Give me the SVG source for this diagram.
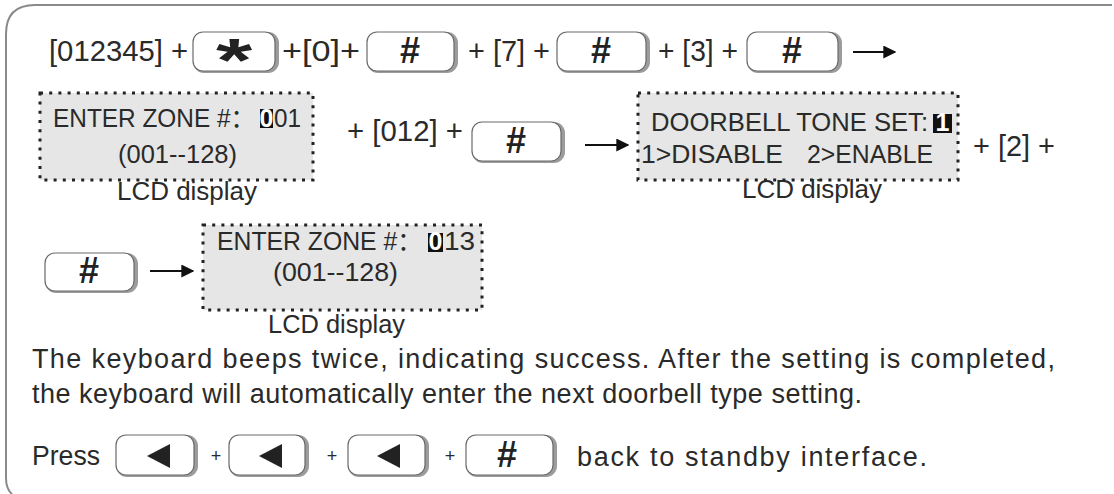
<svg xmlns="http://www.w3.org/2000/svg" width="1114" height="494" viewBox="0 0 1114 494">
<style>
.t{font-family:"Liberation Sans",Arial,"Noto Sans CJK SC",sans-serif;fill:#2a2a2a}
.r1{font-size:29px}
.lcd{font-size:25px}
.p{font-size:27px}
.ksh{fill:#9c9c9c}
.kb{fill:#fff;stroke:#6a6a6a;stroke-width:1.2}
.kg{font-family:"Liberation Sans",Arial,sans-serif;font-weight:bold;fill:#222;text-anchor:middle}
.box{fill:#e6e6e6;stroke:#222;stroke-width:3;stroke-dasharray:3 6.2}
.hl{fill:#111}
.wt{font-family:"Liberation Sans",Arial,sans-serif;font-size:25px;fill:#fff;text-anchor:middle;font-weight:bold}
.con{stroke:#111;stroke-width:2;fill:none}
.tri{fill:#222}
</style>
<defs>
<marker id="ah" viewBox="0 0 10 10" refX="9" refY="5" markerWidth="6.5" markerHeight="6.5" orient="auto" markerUnits="strokeWidth">
<path d="M0,0 L10,5 L0,10 z" fill="#111"/>
</marker>
</defs>
<rect width="1114" height="494" fill="#fff"/>
<path d="M1112 5 H35 Q6 5 6 34 V478 Q6 489 12 494" fill="none" stroke="#8a8a8a" stroke-width="2"/>

<!-- row 1 text -->
<text class="t r1" x="49" y="61" textLength="139" lengthAdjust="spacingAndGlyphs">[012345] +</text>
<text class="t r1" x="282" y="61" textLength="78" lengthAdjust="spacingAndGlyphs">+[0]+</text>
<text class="t r1" x="468" y="61" textLength="82" lengthAdjust="spacingAndGlyphs">+ [7] +</text>
<text class="t r1" x="658" y="61" textLength="80" lengthAdjust="spacingAndGlyphs">+ [3] +</text>

<g id="key-star">
<rect class="ksh" x="193" y="32" width="86" height="41" rx="11"/>
<rect class="kb" x="193" y="32" width="82" height="39" rx="10"/>
<text class="kg" x="0" y="0" font-size="62" transform="translate(234 81) scale(1.5 1)">*</text>
</g>
<g id="key-hash-1">
<rect class="ksh" x="367" y="32" width="91" height="41" rx="11"/>
<rect class="kb" x="367" y="32" width="87" height="39" rx="10"/>
<text class="kg" x="410" y="63" font-size="36">#</text>
</g>
<g id="key-hash-2">
<rect class="ksh" x="557" y="32" width="93" height="41" rx="11"/>
<rect class="kb" x="557" y="32" width="89" height="39" rx="10"/>
<text class="kg" x="601" y="63" font-size="36">#</text>
</g>
<g id="key-hash-3">
<rect class="ksh" x="747" y="32" width="95" height="41" rx="11"/>
<rect class="kb" x="747" y="32" width="91" height="39" rx="10"/>
<text class="kg" x="792" y="63" font-size="36">#</text>
</g>

<!-- row 2 -->
<g id="lcd-1">
<rect class="box" x="40" y="93" width="273" height="87"/>
<text class="t lcd" x="53" y="127" textLength="202" lengthAdjust="spacingAndGlyphs">ENTER ZONE #：</text>
<rect class="hl" x="260" y="109" width="13" height="19"/>
<text class="wt" x="266.5" y="127">0</text>
<text class="t lcd" x="274" y="127" textLength="27" lengthAdjust="spacingAndGlyphs">01</text>
<text class="t lcd" x="118" y="163" textLength="119" lengthAdjust="spacingAndGlyphs">(001--128)</text>
<text class="t lcd" x="117" y="200" textLength="140" lengthAdjust="spacingAndGlyphs">LCD display</text>
</g>
<text class="t r1" x="347" y="141" textLength="116" lengthAdjust="spacingAndGlyphs">+ [012] +</text>
<g id="key-hash-4">
<rect class="ksh" x="472" y="122" width="93" height="41" rx="11"/>
<rect class="kb" x="472" y="122" width="89" height="39" rx="10"/>
<text class="kg" x="516" y="153" font-size="36">#</text>
</g>
<g id="lcd-2">
<rect class="box" x="638" y="93" width="320" height="87"/>
<text class="t lcd" x="651" y="131" textLength="277" lengthAdjust="spacingAndGlyphs">DOORBELL TONE SET:</text>
<rect class="hl" x="933" y="114" width="19" height="19"/>
<text class="wt" x="942.5" y="131">1</text>
<text class="t lcd" x="641" y="163" textLength="142" lengthAdjust="spacingAndGlyphs">1&gt;DISABLE</text>
<text class="t lcd" x="807" y="163" textLength="126" lengthAdjust="spacingAndGlyphs">2&gt;ENABLE</text>
<text class="t lcd" x="742" y="198" textLength="140" lengthAdjust="spacingAndGlyphs">LCD display</text>
</g>
<text class="t r1" x="973" y="156" textLength="82" lengthAdjust="spacingAndGlyphs">+ [2] +</text>

<!-- row 3 -->
<g id="key-hash-5">
<rect class="ksh" x="45" y="253" width="93" height="40" rx="11"/>
<rect class="kb" x="45" y="253" width="89" height="38" rx="10"/>
<text class="kg" x="89" y="283" font-size="36">#</text>
</g>
<g id="lcd-3">
<rect class="box" x="203" y="225" width="279" height="85"/>
<text class="t lcd" x="217" y="250" textLength="205" lengthAdjust="spacingAndGlyphs">ENTER ZONE #：</text>
<rect class="hl" x="428" y="233" width="15" height="19"/>
<text class="wt" x="435.5" y="250">0</text>
<text class="t lcd" x="444" y="250" textLength="31" lengthAdjust="spacingAndGlyphs">13</text>
<text class="t lcd" x="273" y="281" textLength="125" lengthAdjust="spacingAndGlyphs">(001--128)</text>
<text class="t lcd" x="268" y="333" textLength="137" lengthAdjust="spacingAndGlyphs">LCD display</text>
</g>

<g id="connectors">
<line class="con" x1="853" y1="52" x2="895" y2="52" marker-end="url(#ah)"/>
<line class="con" x1="585" y1="145" x2="628" y2="145" marker-end="url(#ah)"/>
<line class="con" x1="150" y1="271" x2="193" y2="271" marker-end="url(#ah)"/>
</g>

<!-- paragraph -->
<text class="t p" x="32" y="368" textLength="1023" lengthAdjust="spacing">The keyboard beeps twice, indicating success. After the setting is completed,</text>
<text class="t p" x="32" y="403" textLength="830" lengthAdjust="spacing">the keyboard will automatically enter the next doorbell type setting.</text>
<text class="t p" x="32" y="465" textLength="68" lengthAdjust="spacingAndGlyphs">Press</text>
<g id="key-left-1">
<rect class="ksh" x="116" y="435" width="82" height="42" rx="11"/>
<rect class="kb" x="116" y="435" width="78" height="40" rx="10"/>
<polygon class="tri" points="147,456 170,444 170,468"/>
</g>
<text class="t" x="216" y="462" font-size="18" text-anchor="middle">+</text>
<g id="key-left-2">
<rect class="ksh" x="229" y="435" width="80" height="42" rx="11"/>
<rect class="kb" x="229" y="435" width="76" height="40" rx="10"/>
<polygon class="tri" points="259,456 282,444 282,468"/>
</g>
<text class="t" x="332" y="462" font-size="18" text-anchor="middle">+</text>
<g id="key-left-3">
<rect class="ksh" x="348" y="435" width="81" height="42" rx="11"/>
<rect class="kb" x="348" y="435" width="77" height="40" rx="10"/>
<polygon class="tri" points="377,456 400,444 400,468"/>
</g>
<text class="t" x="450" y="462" font-size="18" text-anchor="middle">+</text>
<g id="key-hash-6">
<rect class="ksh" x="466" y="435" width="91" height="42" rx="11"/>
<rect class="kb" x="466" y="435" width="87" height="40" rx="10"/>
<text class="kg" x="507" y="467" font-size="36">#</text>
</g>
<text class="t p" x="577" y="466" textLength="350" lengthAdjust="spacing">back to standby interface.</text>
</svg>
